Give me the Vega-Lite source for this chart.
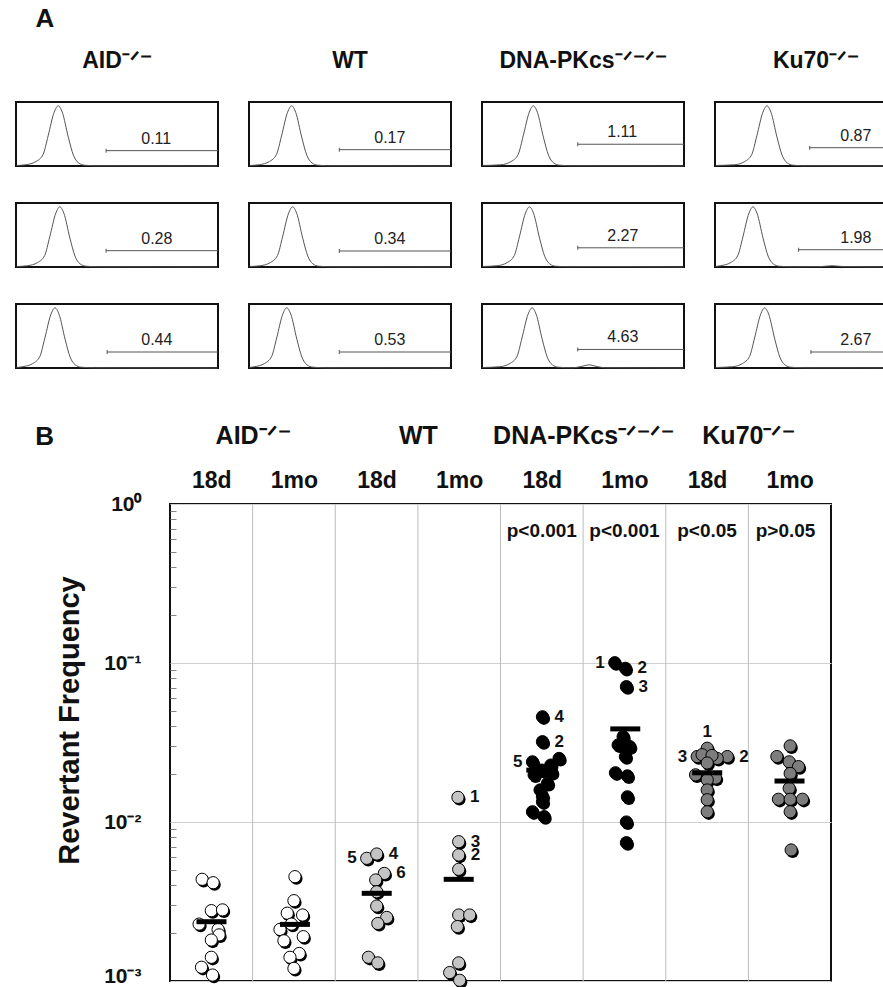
{
  "$schema": "https://vega.github.io/schema/vega-lite/v6.json",
  "padding": {"left": 13, "top": 6, "right": 0, "bottom": 0},
  "config": {
    "font": "Liberation Sans",
    "view": {"stroke": "#111", "strokeWidth": 2},
    "title": {"color": "#111"}
  },
  "spacing": 51,
  "datasets": {
    "hist": [
      {"k":"c","g":"A","r":1,"x":0.003,"y":0.008},{"k":"c","g":"A","r":1,"x":0.049,"y":0.02},{"k":"c","g":"A","r":1,"x":0.099,"y":0.07},{"k":"c","g":"A","r":1,"x":0.134,"y":0.18},{"k":"c","g":"A","r":1,"x":0.159,"y":0.47},{"k":"c","g":"A","r":1,"x":0.189,"y":0.84},{"k":"c","g":"A","r":1,"x":0.209,"y":0.94},{"k":"c","g":"A","r":1,"x":0.229,"y":0.84},{"k":"c","g":"A","r":1,"x":0.259,"y":0.45},{"k":"c","g":"A","r":1,"x":0.284,"y":0.17},{"k":"c","g":"A","r":1,"x":0.309,"y":0.05},{"k":"c","g":"A","r":1,"x":0.339,"y":0.012},{"k":"c","g":"A","r":1,"x":0.409,"y":0.003},{"k":"c","g":"A","r":1,"x":0.997,"y":0},
      {"k":"c","g":"A","r":2,"x":0.003,"y":0.008},{"k":"c","g":"A","r":2,"x":0.057,"y":0.02},{"k":"c","g":"A","r":2,"x":0.107,"y":0.07},{"k":"c","g":"A","r":2,"x":0.142,"y":0.18},{"k":"c","g":"A","r":2,"x":0.167,"y":0.47},{"k":"c","g":"A","r":2,"x":0.197,"y":0.84},{"k":"c","g":"A","r":2,"x":0.217,"y":0.94},{"k":"c","g":"A","r":2,"x":0.237,"y":0.84},{"k":"c","g":"A","r":2,"x":0.267,"y":0.45},{"k":"c","g":"A","r":2,"x":0.292,"y":0.17},{"k":"c","g":"A","r":2,"x":0.317,"y":0.05},{"k":"c","g":"A","r":2,"x":0.347,"y":0.012},{"k":"c","g":"A","r":2,"x":0.417,"y":0.003},{"k":"c","g":"A","r":2,"x":0.997,"y":0},
      {"k":"c","g":"A","r":3,"x":0.003,"y":0.008},{"k":"c","g":"A","r":3,"x":0.033,"y":0.02},{"k":"c","g":"A","r":3,"x":0.083,"y":0.07},{"k":"c","g":"A","r":3,"x":0.118,"y":0.18},{"k":"c","g":"A","r":3,"x":0.143,"y":0.47},{"k":"c","g":"A","r":3,"x":0.173,"y":0.84},{"k":"c","g":"A","r":3,"x":0.193,"y":0.94},{"k":"c","g":"A","r":3,"x":0.213,"y":0.84},{"k":"c","g":"A","r":3,"x":0.243,"y":0.45},{"k":"c","g":"A","r":3,"x":0.268,"y":0.17},{"k":"c","g":"A","r":3,"x":0.293,"y":0.05},{"k":"c","g":"A","r":3,"x":0.323,"y":0.012},{"k":"c","g":"A","r":3,"x":0.393,"y":0.003},{"k":"c","g":"A","r":3,"x":0.997,"y":0},
      {"k":"c","g":"W","r":1,"x":0.003,"y":0.008},{"k":"c","g":"W","r":1,"x":0.051,"y":0.02},{"k":"c","g":"W","r":1,"x":0.101,"y":0.07},{"k":"c","g":"W","r":1,"x":0.136,"y":0.18},{"k":"c","g":"W","r":1,"x":0.161,"y":0.47},{"k":"c","g":"W","r":1,"x":0.191,"y":0.84},{"k":"c","g":"W","r":1,"x":0.211,"y":0.94},{"k":"c","g":"W","r":1,"x":0.231,"y":0.84},{"k":"c","g":"W","r":1,"x":0.261,"y":0.45},{"k":"c","g":"W","r":1,"x":0.286,"y":0.17},{"k":"c","g":"W","r":1,"x":0.311,"y":0.05},{"k":"c","g":"W","r":1,"x":0.341,"y":0.012},{"k":"c","g":"W","r":1,"x":0.411,"y":0.003},{"k":"c","g":"W","r":1,"x":0.997,"y":0},
      {"k":"c","g":"W","r":2,"x":0.003,"y":0.008},{"k":"c","g":"W","r":2,"x":0.056,"y":0.02},{"k":"c","g":"W","r":2,"x":0.106,"y":0.07},{"k":"c","g":"W","r":2,"x":0.141,"y":0.18},{"k":"c","g":"W","r":2,"x":0.166,"y":0.47},{"k":"c","g":"W","r":2,"x":0.196,"y":0.84},{"k":"c","g":"W","r":2,"x":0.216,"y":0.94},{"k":"c","g":"W","r":2,"x":0.236,"y":0.84},{"k":"c","g":"W","r":2,"x":0.266,"y":0.45},{"k":"c","g":"W","r":2,"x":0.291,"y":0.17},{"k":"c","g":"W","r":2,"x":0.316,"y":0.05},{"k":"c","g":"W","r":2,"x":0.346,"y":0.012},{"k":"c","g":"W","r":2,"x":0.416,"y":0.003},{"k":"c","g":"W","r":2,"x":0.997,"y":0},
      {"k":"c","g":"W","r":3,"x":0.003,"y":0.008},{"k":"c","g":"W","r":3,"x":0.027,"y":0.02},{"k":"c","g":"W","r":3,"x":0.077,"y":0.07},{"k":"c","g":"W","r":3,"x":0.112,"y":0.18},{"k":"c","g":"W","r":3,"x":0.137,"y":0.47},{"k":"c","g":"W","r":3,"x":0.167,"y":0.84},{"k":"c","g":"W","r":3,"x":0.187,"y":0.94},{"k":"c","g":"W","r":3,"x":0.207,"y":0.84},{"k":"c","g":"W","r":3,"x":0.237,"y":0.45},{"k":"c","g":"W","r":3,"x":0.262,"y":0.17},{"k":"c","g":"W","r":3,"x":0.287,"y":0.05},{"k":"c","g":"W","r":3,"x":0.317,"y":0.012},{"k":"c","g":"W","r":3,"x":0.387,"y":0.003},{"k":"c","g":"W","r":3,"x":0.997,"y":0},
      {"k":"c","g":"D","r":1,"x":0.003,"y":0.008},{"k":"c","g":"D","r":1,"x":0.094,"y":0.02},{"k":"c","g":"D","r":1,"x":0.144,"y":0.07},{"k":"c","g":"D","r":1,"x":0.179,"y":0.18},{"k":"c","g":"D","r":1,"x":0.204,"y":0.47},{"k":"c","g":"D","r":1,"x":0.234,"y":0.84},{"k":"c","g":"D","r":1,"x":0.254,"y":0.94},{"k":"c","g":"D","r":1,"x":0.274,"y":0.84},{"k":"c","g":"D","r":1,"x":0.304,"y":0.45},{"k":"c","g":"D","r":1,"x":0.329,"y":0.17},{"k":"c","g":"D","r":1,"x":0.354,"y":0.05},{"k":"c","g":"D","r":1,"x":0.384,"y":0.012},{"k":"c","g":"D","r":1,"x":0.454,"y":0.003},{"k":"c","g":"D","r":1,"x":0.997,"y":0},
      {"k":"c","g":"D","r":2,"x":0.003,"y":0.008},{"k":"c","g":"D","r":2,"x":0.075,"y":0.02},{"k":"c","g":"D","r":2,"x":0.125,"y":0.07},{"k":"c","g":"D","r":2,"x":0.160,"y":0.18},{"k":"c","g":"D","r":2,"x":0.185,"y":0.47},{"k":"c","g":"D","r":2,"x":0.215,"y":0.84},{"k":"c","g":"D","r":2,"x":0.235,"y":0.94},{"k":"c","g":"D","r":2,"x":0.255,"y":0.84},{"k":"c","g":"D","r":2,"x":0.285,"y":0.45},{"k":"c","g":"D","r":2,"x":0.310,"y":0.17},{"k":"c","g":"D","r":2,"x":0.335,"y":0.05},{"k":"c","g":"D","r":2,"x":0.365,"y":0.012},{"k":"c","g":"D","r":2,"x":0.435,"y":0.004},{"k":"c","g":"D","r":2,"x":0.55,"y":0.006},{"k":"c","g":"D","r":2,"x":0.997,"y":0},
      {"k":"c","g":"D","r":3,"x":0.003,"y":0.008},{"k":"c","g":"D","r":3,"x":0.088,"y":0.02},{"k":"c","g":"D","r":3,"x":0.138,"y":0.07},{"k":"c","g":"D","r":3,"x":0.173,"y":0.18},{"k":"c","g":"D","r":3,"x":0.198,"y":0.47},{"k":"c","g":"D","r":3,"x":0.228,"y":0.84},{"k":"c","g":"D","r":3,"x":0.248,"y":0.94},{"k":"c","g":"D","r":3,"x":0.268,"y":0.84},{"k":"c","g":"D","r":3,"x":0.298,"y":0.45},{"k":"c","g":"D","r":3,"x":0.323,"y":0.17},{"k":"c","g":"D","r":3,"x":0.348,"y":0.05},{"k":"c","g":"D","r":3,"x":0.378,"y":0.012},{"k":"c","g":"D","r":3,"x":0.448,"y":0.004},{"k":"c","g":"D","r":3,"x":0.50,"y":0.03},{"k":"c","g":"D","r":3,"x":0.53,"y":0.05},{"k":"c","g":"D","r":3,"x":0.56,"y":0.03},{"k":"c","g":"D","r":3,"x":0.61,"y":0.004},{"k":"c","g":"D","r":3,"x":0.997,"y":0},
      {"k":"c","g":"K","r":1,"x":0.003,"y":0.008},{"k":"c","g":"K","r":1,"x":0.097,"y":0.02},{"k":"c","g":"K","r":1,"x":0.147,"y":0.07},{"k":"c","g":"K","r":1,"x":0.182,"y":0.18},{"k":"c","g":"K","r":1,"x":0.207,"y":0.47},{"k":"c","g":"K","r":1,"x":0.237,"y":0.84},{"k":"c","g":"K","r":1,"x":0.257,"y":0.94},{"k":"c","g":"K","r":1,"x":0.277,"y":0.84},{"k":"c","g":"K","r":1,"x":0.307,"y":0.45},{"k":"c","g":"K","r":1,"x":0.332,"y":0.17},{"k":"c","g":"K","r":1,"x":0.357,"y":0.05},{"k":"c","g":"K","r":1,"x":0.387,"y":0.012},{"k":"c","g":"K","r":1,"x":0.457,"y":0.003},{"k":"c","g":"K","r":1,"x":0.997,"y":0},
      {"k":"c","g":"K","r":2,"x":0.003,"y":0.008},{"k":"c","g":"K","r":2,"x":0.028,"y":0.02},{"k":"c","g":"K","r":2,"x":0.078,"y":0.07},{"k":"c","g":"K","r":2,"x":0.113,"y":0.18},{"k":"c","g":"K","r":2,"x":0.138,"y":0.47},{"k":"c","g":"K","r":2,"x":0.168,"y":0.84},{"k":"c","g":"K","r":2,"x":0.188,"y":0.94},{"k":"c","g":"K","r":2,"x":0.208,"y":0.84},{"k":"c","g":"K","r":2,"x":0.238,"y":0.45},{"k":"c","g":"K","r":2,"x":0.263,"y":0.17},{"k":"c","g":"K","r":2,"x":0.288,"y":0.05},{"k":"c","g":"K","r":2,"x":0.318,"y":0.012},{"k":"c","g":"K","r":2,"x":0.388,"y":0.003},{"k":"c","g":"K","r":2,"x":0.52,"y":0.006},{"k":"c","g":"K","r":2,"x":0.58,"y":0.02},{"k":"c","g":"K","r":2,"x":0.64,"y":0.006},{"k":"c","g":"K","r":2,"x":0.997,"y":0},
      {"k":"c","g":"K","r":3,"x":0.003,"y":0.008},{"k":"c","g":"K","r":3,"x":0.086,"y":0.02},{"k":"c","g":"K","r":3,"x":0.136,"y":0.07},{"k":"c","g":"K","r":3,"x":0.171,"y":0.18},{"k":"c","g":"K","r":3,"x":0.196,"y":0.47},{"k":"c","g":"K","r":3,"x":0.226,"y":0.84},{"k":"c","g":"K","r":3,"x":0.246,"y":0.94},{"k":"c","g":"K","r":3,"x":0.266,"y":0.84},{"k":"c","g":"K","r":3,"x":0.296,"y":0.45},{"k":"c","g":"K","r":3,"x":0.321,"y":0.17},{"k":"c","g":"K","r":3,"x":0.346,"y":0.05},{"k":"c","g":"K","r":3,"x":0.376,"y":0.012},{"k":"c","g":"K","r":3,"x":0.446,"y":0.003},{"k":"c","g":"K","r":3,"x":0.997,"y":0},
      {"k":"g","g":"A","r":1,"gx":0.446,"gy":0.24,"v":"0.11"},
      {"k":"g","g":"A","r":2,"gx":0.446,"gy":0.255,"v":"0.28"},
      {"k":"g","g":"A","r":3,"gx":0.451,"gy":0.25,"v":"0.44"},
      {"k":"g","g":"W","r":1,"gx":0.447,"gy":0.255,"v":"0.17"},
      {"k":"g","g":"W","r":2,"gx":0.447,"gy":0.25,"v":"0.34"},
      {"k":"g","g":"W","r":3,"gx":0.447,"gy":0.25,"v":"0.53"},
      {"k":"g","g":"D","r":1,"gx":0.474,"gy":0.34,"v":"1.11"},
      {"k":"g","g":"D","r":2,"gx":0.474,"gy":0.30,"v":"2.27"},
      {"k":"g","g":"D","r":3,"gx":0.474,"gy":0.29,"v":"4.63"},
      {"k":"g","g":"K","r":1,"gx":0.469,"gy":0.286,"v":"0.87"},
      {"k":"g","g":"K","r":2,"gx":0.414,"gy":0.27,"v":"1.98"},
      {"k":"g","g":"K","r":3,"gx":0.475,"gy":0.25,"v":"2.67"}
    ],
    "dots": [
      {"g":"A","x":0.389,"v":0.00436},{"g":"A","x":0.522,"v":0.00415},{"g":"A","x":0.500,"v":0.00277},{"g":"A","x":0.636,"v":0.00280},{"g":"A","x":0.352,"v":0.00228},{"g":"A","x":0.582,"v":0.00211},{"g":"A","x":0.594,"v":0.00195},{"g":"A","x":0.500,"v":0.00181},{"g":"A","x":0.500,"v":0.00141},{"g":"A","x":0.381,"v":0.00122},{"g":"A","x":0.515,"v":0.00109},
      {"g":"A","x":1.512,"v":0.00453},{"g":"A","x":1.500,"v":0.00320},{"g":"A","x":1.419,"v":0.00267},{"g":"A","x":1.605,"v":0.00260},{"g":"A","x":1.470,"v":0.00228},{"g":"A","x":1.331,"v":0.00211},{"g":"A","x":1.613,"v":0.00190},{"g":"A","x":1.379,"v":0.00179},{"g":"A","x":1.564,"v":0.00149},{"g":"A","x":1.452,"v":0.00141},{"g":"A","x":1.500,"v":0.00120},
      {"g":"W","x":2.381,"v":0.00591,"lab":"5","side":"l"},{"g":"W","x":2.502,"v":0.00629,"lab":"4","side":"r"},{"g":"W","x":2.594,"v":0.00475,"lab":"6","side":"r"},{"g":"W","x":2.490,"v":0.00432},{"g":"W","x":2.502,"v":0.00364},{"g":"W","x":2.502,"v":0.00296},{"g":"W","x":2.623,"v":0.00251},{"g":"W","x":2.515,"v":0.00230},{"g":"W","x":2.401,"v":0.00141},{"g":"W","x":2.515,"v":0.00130},
      {"g":"W","x":3.485,"v":0.01429,"lab":"1","side":"r"},{"g":"W","x":3.494,"v":0.00752,"lab":"3","side":"r"},{"g":"W","x":3.494,"v":0.00620,"lab":"2","side":"r"},{"g":"W","x":3.494,"v":0.00504},{"g":"W","x":3.494,"v":0.00260},{"g":"W","x":3.627,"v":0.00260},{"g":"W","x":3.478,"v":0.00220},{"g":"W","x":3.494,"v":0.00130},{"g":"W","x":3.385,"v":0.00113},{"g":"W","x":3.506,"v":0.00101},
      {"g":"D","x":4.508,"v":0.0459,"lab":"4","side":"r"},{"g":"D","x":4.508,"v":0.0320,"lab":"2","side":"r"},{"g":"D","x":4.387,"v":0.0239,"lab":"5","side":"l"},{"g":"D","x":4.709,"v":0.0251},{"g":"D","x":4.609,"v":0.0228},{"g":"D","x":4.620,"v":0.0205},{"g":"D","x":4.500,"v":0.0212},{"g":"D","x":4.407,"v":0.0198},{"g":"D","x":4.569,"v":0.0175},{"g":"D","x":4.479,"v":0.0159},{"g":"D","x":4.508,"v":0.0145},{"g":"D","x":4.508,"v":0.0134},{"g":"D","x":4.387,"v":0.0116},{"g":"D","x":4.528,"v":0.0108},
      {"g":"D","x":5.383,"v":0.1004,"lab":"1","side":"l"},{"g":"D","x":5.512,"v":0.0926,"lab":"2","side":"r"},{"g":"D","x":5.524,"v":0.0710,"lab":"3","side":"r"},{"g":"D","x":5.484,"v":0.0344},{"g":"D","x":5.424,"v":0.0305},{"g":"D","x":5.564,"v":0.0298},{"g":"D","x":5.512,"v":0.0258},{"g":"D","x":5.391,"v":0.0204},{"g":"D","x":5.536,"v":0.0195},{"g":"D","x":5.536,"v":0.0144},{"g":"D","x":5.524,"v":0.0100},{"g":"D","x":5.524,"v":0.00741},
      {"g":"K","x":6.502,"v":0.0291,"lab":"1","side":"t"},{"g":"K","x":6.381,"v":0.0258,"lab":"3","side":"l"},{"g":"K","x":6.745,"v":0.0258,"lab":"2","side":"r"},{"g":"K","x":6.440,"v":0.0265},{"g":"K","x":6.623,"v":0.0251},{"g":"K","x":6.560,"v":0.0262},{"g":"K","x":6.502,"v":0.0235},{"g":"K","x":6.361,"v":0.0198},{"g":"K","x":6.603,"v":0.0189},{"g":"K","x":6.502,"v":0.0184},{"g":"K","x":6.502,"v":0.0159},{"g":"K","x":6.502,"v":0.0138},{"g":"K","x":6.502,"v":0.0116},
      {"g":"K","x":7.506,"v":0.0301},{"g":"K","x":7.345,"v":0.0258},{"g":"K","x":7.494,"v":0.0239},{"g":"K","x":7.607,"v":0.0223},{"g":"K","x":7.506,"v":0.0202},{"g":"K","x":7.494,"v":0.0163},{"g":"K","x":7.364,"v":0.0139},{"g":"K","x":7.506,"v":0.0139},{"g":"K","x":7.655,"v":0.0139},{"g":"K","x":7.506,"v":0.0116},{"g":"K","x":7.518,"v":0.00667}
    ],
    "means": [
      {"x":0.502,"m":0.00236},{"x":1.512,"m":0.00227},{"x":2.502,"m":0.00356},{"x":3.494,"m":0.00436},
      {"x":4.494,"m":0.0212},{"x":5.51,"m":0.0385},{"x":6.502,"m":0.0204},{"x":7.498,"m":0.0181}
    ],
    "pvals": [
      {"x":4.5,"p":"p<0.001"},{"x":5.5,"p":"p<0.001"},{"x":6.5,"p":"p<0.05"},{"x":7.45,"p":"p>0.05"}
    ],
    "seps": [{"s":1},{"s":2},{"s":3},{"s":4},{"s":5},{"s":6},{"s":7}],
    "panelB": [{"t":"B"}]
  },
  "vconcat": [
    {
      "title": {"text": "A", "anchor": "start", "frame": "bounds", "dx": 22, "fontSize": 26, "fontWeight": "bold", "offset": 18},
      "data": {"name": "hist"},
      "facet": {
        "column": {"field": "g", "type": "nominal", "sort": ["A", "W", "D", "K"],
          "header": {"title": null, "labelExpr": "datum.value=='A'?'AID⁻ᐟ⁻':datum.value=='W'?'WT':datum.value=='D'?'DNA-PKcs⁻ᐟ⁻ᐟ⁻':'Ku70⁻ᐟ⁻'", "labelFontSize": 23, "labelFontWeight": "bold", "labelColor": "#111", "labelPadding": 28, "labelLimit": 400}},
        "row": {"field": "r", "type": "ordinal", "header": {"title": null, "labels": false}}
      },
      "spacing": {"row": 33, "column": 25},
      "spec": {
        "width": 202,
        "height": 64,
        "layer": [
          {
            "transform": [{"filter": "datum.k == 'c'"}],
            "mark": {"type": "line", "color": "#555", "strokeWidth": 1, "interpolate": "monotone"},
            "encoding": {
              "x": {"field": "x", "type": "quantitative", "scale": {"domain": [0, 1]}, "axis": null},
              "y": {"field": "y", "type": "quantitative", "scale": {"domain": [0, 1]}, "axis": null}
            }
          },
          {
            "transform": [{"filter": "datum.k == 'g'"}],
            "mark": {"type": "rule", "color": "#555", "strokeWidth": 1},
            "encoding": {
              "x": {"field": "gx", "type": "quantitative", "axis": null},
              "x2": {"datum": 1},
              "y": {"field": "gy", "type": "quantitative", "axis": null}
            }
          },
          {
            "transform": [{"filter": "datum.k == 'g'"}],
            "mark": {"type": "tick", "orient": "vertical", "color": "#555", "size": 4, "thickness": 1, "opacity": 1},
            "encoding": {
              "x": {"field": "gx", "type": "quantitative", "axis": null},
              "y": {"field": "gy", "type": "quantitative", "axis": null}
            }
          },
          {
            "transform": [{"filter": "datum.k == 'g'"}],
            "mark": {"type": "text", "align": "left", "baseline": "alphabetic", "dy": -7, "fontSize": 16, "color": "#222"},
            "encoding": {
              "x": {"datum": 0.62, "type": "quantitative", "axis": null},
              "y": {"field": "gy", "type": "quantitative", "axis": null},
              "text": {"field": "v"}
            }
          }
        ]
      }
    },
    {
      "spacing": 0,
      "hconcat": [
        {
          "data": {"name": "panelB"},
          "width": 1,
          "height": 1,
          "view": {"stroke": null},
          "mark": {"type": "text", "align": "right", "baseline": "middle", "dx": 37.5, "dy": -68, "fontSize": 26, "fontWeight": "bold", "color": "#111"},
          "encoding": {"text": {"field": "t"}}
        },
        {
          "width": 661,
          "height": 477,
          "layer": [
            {
              "data": {"name": "seps"},
              "mark": {"type": "rule", "color": "#bdbdbd", "strokeWidth": 1},
              "encoding": {
                "x": {"field": "s", "type": "quantitative", "scale": {"domain": [0, 8], "nice": false, "zero": false},
                  "axis": {"orient": "top", "values": [1, 3, 5, 7], "labelExpr": "datum.value==1?'AID⁻ᐟ⁻':datum.value==3?'WT':datum.value==5?'DNA-PKcs⁻ᐟ⁻ᐟ⁻':'Ku70⁻ᐟ⁻'", "ticks": false, "tickSize": 0, "domain": false, "grid": false, "title": null, "labelFontSize": 25, "labelFontWeight": "bold", "labelColor": "#111", "labelPadding": 56, "labelFlush": false, "labelOverlap": false, "labelLimit": 400}}
              }
            },
            {
              "data": {"name": "dots"},
              "mark": {"type": "circle", "size": 150, "opacity": 1, "color": "#000", "xOffset": 1.5, "yOffset": 2},
              "encoding": {
                "x": {"field": "x", "type": "quantitative",
                  "axis": {"orient": "top", "values": [0.5, 1.5, 2.5, 3.5, 4.5, 5.5, 6.5, 7.5], "labelExpr": "datum.value % 2 < 1 ? '18d' : '1mo'", "ticks": false, "tickSize": 0, "domain": false, "grid": false, "title": null, "labelFontSize": 23, "labelFontWeight": "bold", "labelColor": "#111", "labelPadding": 12, "labelFlush": false, "labelOverlap": false}},
                "y": {"field": "v", "type": "quantitative", "scale": {"type": "log", "domain": [0.001, 1], "nice": false},
                  "axis": {"orient": "left", "values": [0.001, 0.01, 0.1, 1], "labelExpr": "datum.value > 0.5 ? '10⁰' : datum.value > 0.05 ? '10⁻¹' : datum.value > 0.005 ? '10⁻²' : '10⁻³'", "labelOffset": {"condition": {"test": "datum.value < 0.005", "value": -5}, "value": 0}, "grid": true, "gridColor": "#d0d0d0", "gridWidth": 1, "ticks": false, "tickSize": 0, "domain": false, "labelFontSize": 21, "labelFontWeight": "bold", "labelColor": "#111", "labelPadding": 29, "labelFlush": false, "labelOverlap": false, "title": "Revertant Frequency", "titleFontSize": 29, "titleFontWeight": "bold", "titleColor": "#111", "titleAngle": 270, "titleAlign": "center", "titleBaseline": "alphabetic", "titleX": -92, "titleY": 216, "minExtent": 108}}
              }
            },
            {
              "data": {"name": "dots"},
              "mark": {"type": "circle", "size": 150, "opacity": 1, "stroke": "#000", "strokeWidth": 1},
              "encoding": {
                "x": {"field": "x", "type": "quantitative", "axis": null},
                "y": {"field": "v", "type": "quantitative", "axis": null},
                "fill": {"field": "g", "type": "nominal", "scale": {"domain": ["A", "W", "D", "K"], "range": ["#ffffff", "#c4c4c4", "#000000", "#7d7d7d"]}, "legend": null}
              }
            },
            {
              "data": {"name": "means"},
              "mark": {"type": "tick", "orient": "horizontal", "color": "#000", "opacity": 1, "size": 30, "thickness": 5},
              "encoding": {
                "x": {"field": "x", "type": "quantitative", "axis": null},
                "y": {"field": "m", "type": "quantitative",
                  "axis": {"orient": "left", "values": [0.002,0.003,0.004,0.005,0.006,0.007,0.008,0.009,0.02,0.03,0.04,0.05,0.06,0.07,0.08,0.09,0.2,0.3,0.4,0.5,0.6,0.7,0.8,0.9], "labels": false, "grid": false, "domain": false, "ticks": true, "tickSize": -6, "tickColor": "#888", "tickWidth": 1, "title": null}}
              }
            },
            {
              "data": {"name": "dots"},
              "transform": [{"filter": "datum.side == 'r'"}],
              "mark": {"type": "text", "align": "left", "baseline": "middle", "dx": 12, "fontSize": 17, "fontWeight": "bold", "color": "#111"},
              "encoding": {
                "x": {"field": "x", "type": "quantitative", "axis": null},
                "y": {"field": "v", "type": "quantitative", "axis": null},
                "text": {"field": "lab"}
              }
            },
            {
              "data": {"name": "dots"},
              "transform": [{"filter": "datum.side == 'l'"}],
              "mark": {"type": "text", "align": "right", "baseline": "middle", "dx": -10, "fontSize": 17, "fontWeight": "bold", "color": "#111"},
              "encoding": {
                "x": {"field": "x", "type": "quantitative", "axis": null},
                "y": {"field": "v", "type": "quantitative", "axis": null},
                "text": {"field": "lab"}
              }
            },
            {
              "data": {"name": "dots"},
              "transform": [{"filter": "datum.side == 't'"}],
              "mark": {"type": "text", "align": "center", "baseline": "middle", "dy": -16, "fontSize": 17, "fontWeight": "bold", "color": "#111"},
              "encoding": {
                "x": {"field": "x", "type": "quantitative", "axis": null},
                "y": {"field": "v", "type": "quantitative", "axis": null},
                "text": {"field": "lab"}
              }
            },
            {
              "data": {"name": "pvals"},
              "mark": {"type": "text", "align": "center", "baseline": "alphabetic", "fontSize": 19, "fontWeight": "bold", "color": "#111"},
              "encoding": {
                "x": {"field": "x", "type": "quantitative", "axis": null},
                "y": {"datum": 0.62, "type": "quantitative", "axis": null},
                "text": {"field": "p"}
              }
            }
          ],
          "resolve": {"axis": {"x": "independent", "y": "independent"}}
        }
      ]
    }
  ]
}
